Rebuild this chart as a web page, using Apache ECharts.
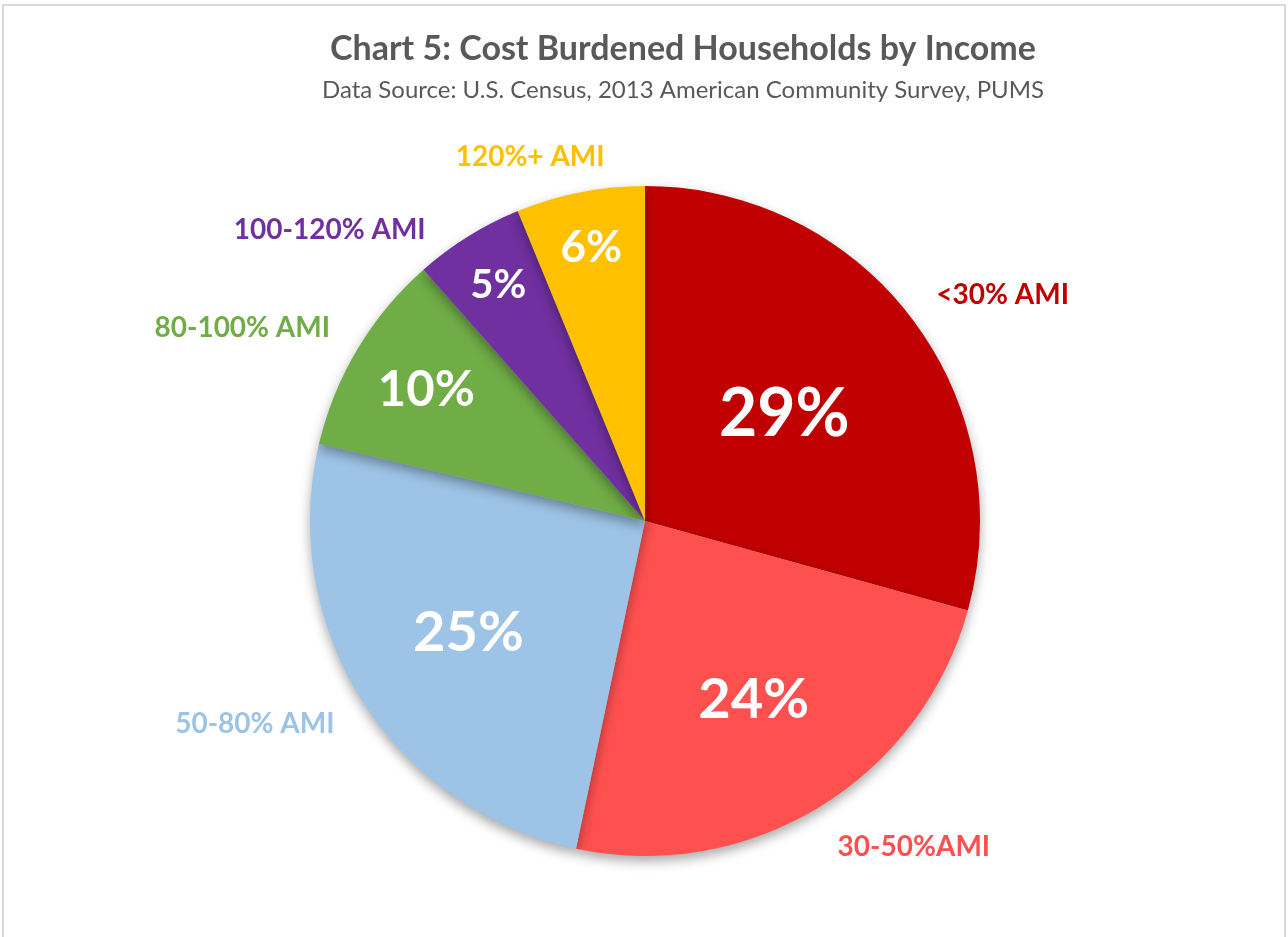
<!DOCTYPE html>
<html><head><meta charset="utf-8">
<script src="https://cdn.jsdelivr.net/npm/echarts@6/dist/echarts.min.js"></script>
<style>
html,body{margin:0;padding:0;background:#fff;}
#frame{position:absolute;left:2px;top:4px;width:1284px;height:940px;border:2px solid #d9d9d9;box-sizing:border-box;}
#chart{position:absolute;left:0;top:0;width:1288px;height:937px;}
</style></head>
<body>
<div id="frame"></div>
<div id="chart"></div>
<script>
const categories = ['<30% AMI', '30-50%AMI', '50-80% AMI', '80-100% AMI', '100-120% AMI', '120%+ AMI'];
const shares = [29.3, 24.0, 25.4, 9.8, 5.3, 6.2];
const pctLabels = ['29%', '24%', '25%', '10%', '5%', '6%'];
const colors = ['#C00000', '#FF5050', '#9DC3E6', '#70AD47', '#7030A0', '#FFC000'];

const FONT = 'Lato, "Open Sans", sans-serif';
const CENTER = [645, 521];
const R = 335;
const pctSizes = [66, 56, 56, 49, 40, 44];

const chart = echarts.init(document.getElementById('chart'), null, {renderer: 'canvas'});

function baseData(labelFn) {
  return categories.map((c, i) => ({
    name: c, value: shares[i],
    label: labelFn(i)
  }));
}

const series = [];
// main pie
series.push({
  type: 'pie', center: CENTER, radius: [0, R], startAngle: 90, clockwise: true,
  silent: true, animation: false,
  itemStyle: {shadowBlur: 12, shadowOffsetY: 5, shadowColor: 'rgba(0,0,0,0.35)'},
  label: {show: false}, labelLine: {show: false},
  data: categories.map((c, i) => ({name: c, value: shares[i], itemStyle: {color: colors[i]}}))
});
// inner percentage label rings
const rings = [[172, [0]], [206, [1, 2]], [252, [3]], [275, [4, 5]]];
rings.forEach(([mid, idxs]) => {
  series.push({
    type: 'pie', center: CENTER, radius: [mid - 2, mid + 2], startAngle: 90, clockwise: true,
    silent: true, animation: false, z: 5,
    itemStyle: {color: 'rgba(0,0,0,0)'},
    labelLine: {show: false},
    data: baseData(i => ({
      show: idxs.includes(i), position: 'inside', rotate: 0,
      formatter: pctLabels[i], color: '#fff', fontWeight: 'bold',
      fontFamily: FONT, fontSize: pctSizes[i]
    }))
  });
});
// outer category labels
const outerOffsets = [[21, 30], [49, -35], [-33, -24], [-40, 25], [-92, 68], [-33, 51]];
series.push({
  type: 'pie', center: CENTER, radius: [418, 422], startAngle: 90, clockwise: true,
  silent: true, animation: false, z: 5,
  itemStyle: {color: 'rgba(0,0,0,0)'},
  labelLine: {show: false},
  data: baseData(i => ({
    show: true, position: 'inside', rotate: 0, offset: outerOffsets[i],
    formatter: categories[i], color: colors[i], fontWeight: 'bold',
    fontFamily: FONT, fontSize: 28
  }))
});

chart.setOption({
  animation: false,
  title: [{
    text: 'Chart 5: Cost Burdened Households by Income',
    left: 678, top: 27, textAlign: 'center',
    textStyle: {fontFamily: FONT, fontWeight: 'bold', fontSize: 34, color: '#595959'}
  }, {
    text: 'Data Source: U.S. Census, 2013 American Community Survey, PUMS',
    left: 678, top: 73, textAlign: 'center',
    textStyle: {fontFamily: FONT, fontWeight: 'normal', fontSize: 24, color: '#595959'}
  }],
  series: series
});
</script>
</body></html>
